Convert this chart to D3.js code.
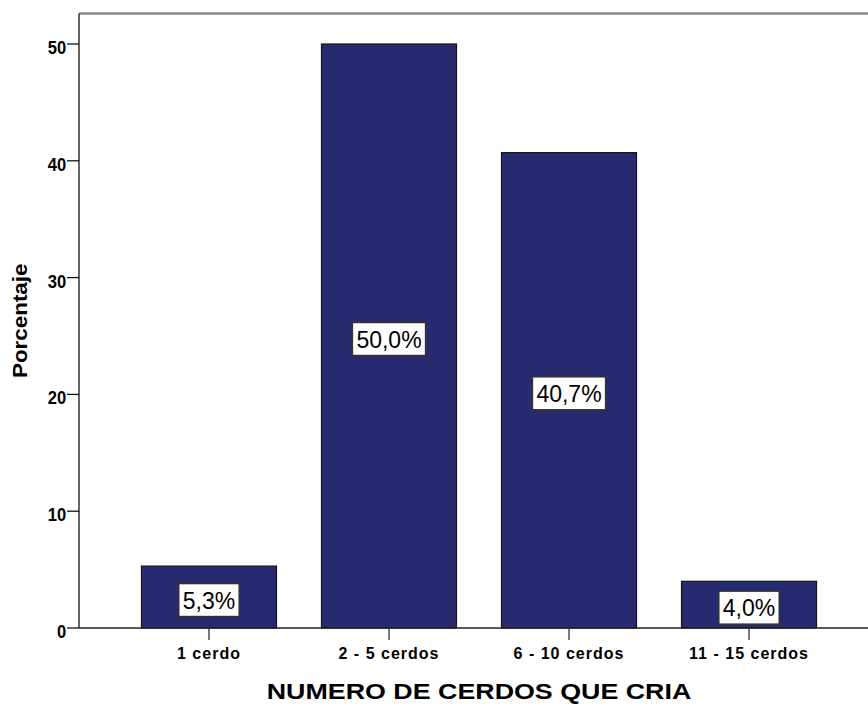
<!DOCTYPE html>
<html>
<head>
<meta charset="utf-8">
<script src="https://cdn.jsdelivr.net/npm/d3@7"></script>
<style>
  html, body { margin: 0; padding: 0; background: #fff; }
  svg { display: block; }
  text { font-family: Arial, "Liberation Sans", sans-serif; fill: #000; }
</style>
</head>
<body>
<svg id="chart" width="868" height="704"></svg>
<script>
// Number of pigs raised per household (percentage of respondents)
const categories = ["1 cerdo", "2 - 5 cerdos", "6 - 10 cerdos", "11 - 15 cerdos"];
const percentages = [5.3, 50.0, 40.7, 4.0];
const yTicks = [0, 10, 20, 30, 40, 50];
const xTitle = "NUMERO DE CERDOS QUE CRIA";
const yTitle = "Porcentaje";

const W = 868, H = 704;
const plot = { left: 79, right: 879, top: 13.5, bottom: 628 };

const svg = d3.select("#chart");

const x = d3.scaleBand()
  .domain(categories)
  .range([plot.left, plot.right])
  .paddingInner(0.25)
  .paddingOuter(0.347);

const y = d3.scaleLinear()
  .domain([0, 50])
  .range([plot.bottom, 44]);

const fmt = v => d3.format(".1f")(v).replace(".", ",") + "%";

// frame: grey top border
svg.append("line")
  .attr("x1", plot.left).attr("x2", W)
  .attr("y1", plot.top).attr("y2", plot.top)
  .attr("stroke", "#8a8a8a").attr("stroke-width", 2.5);

// bars
svg.append("g").selectAll("rect")
  .data(percentages)
  .join("rect")
  .attr("x", (d, i) => x(categories[i]))
  .attr("width", x.bandwidth())
  .attr("y", d => y(d))
  .attr("height", d => y(0) - y(d))
  .attr("fill", "#282a6f")
  .attr("stroke", "#151515")
  .attr("stroke-width", 1.2);

// y axis
const yAxis = svg.append("g")
  .attr("transform", `translate(${plot.left},0)`);
yAxis.append("line")
  .attr("x1", 0).attr("x2", 0)
  .attr("y1", plot.top).attr("y2", plot.bottom)
  .attr("stroke", "#111").attr("stroke-width", 1.3);
const yt = yAxis.selectAll("g.tick").data(yTicks).join("g")
  .attr("class", "tick")
  .attr("transform", d => `translate(0,${y(d)})`);
yt.append("line").attr("x1", -12).attr("x2", 0)
  .attr("stroke", "#111").attr("stroke-width", 1.3);
yt.append("text")
  .attr("x", -14).attr("dy", 10)
  .attr("text-anchor", "end")
  .attr("font-size", 18).attr("font-weight", "bold")
  .attr("transform", "scale(0.92,1)")
  .text(d => d);

// x axis
const xAxis = svg.append("g")
  .attr("transform", `translate(0,${plot.bottom})`);
xAxis.append("line")
  .attr("x1", plot.left).attr("x2", W)
  .attr("stroke", "#222").attr("stroke-width", 1.3);
const xt = xAxis.selectAll("g.tick").data(categories).join("g")
  .attr("class", "tick")
  .attr("transform", d => `translate(${x(d) + x.bandwidth() / 2},0)`);
xt.append("line").attr("y1", 0).attr("y2", 12)
  .attr("stroke", "#333").attr("stroke-width", 1.3);
xt.append("text")
  .attr("y", 31)
  .attr("text-anchor", "middle")
  .attr("font-size", 16).attr("font-weight", "bold")
  .attr("letter-spacing", 1)
  .text(d => d);

// value labels in white boxes
const lab = svg.append("g").selectAll("g")
  .data(percentages)
  .join("g")
  .attr("transform", (d, i) =>
    `translate(${x(categories[i]) + x.bandwidth() / 2},${(y(d) + y(0)) / 2 + 3})`);
lab.each(function(d) {
  const g = d3.select(this);
  const t = g.append("text")
    .attr("text-anchor", "middle")
    .attr("y", 8.5)
    .attr("font-size", 23)
    .text(fmt(d));
  const bb = t.node().getBBox();
  g.insert("rect", "text")
    .attr("x", -bb.width / 2 - 4)
    .attr("y", -16.5)
    .attr("width", bb.width + 8)
    .attr("height", 33)
    .attr("fill", "#fff")
    .attr("stroke", "#333")
    .attr("stroke-width", 1.5);
});

// axis titles
svg.append("text")
  .attr("transform", `translate(${(plot.left + plot.right) / 2},699) scale(1.22,1)`)
  .attr("text-anchor", "middle")
  .attr("font-size", 22).attr("font-weight", "bold")
  .text(xTitle);

svg.append("text")
  .attr("transform", `translate(27,${(plot.top + plot.bottom) / 2}) rotate(-90) scale(1.12,1)`)
  .attr("text-anchor", "middle")
  .attr("font-size", 20).attr("font-weight", "bold")
  .text(yTitle);
</script>
</body>
</html>
